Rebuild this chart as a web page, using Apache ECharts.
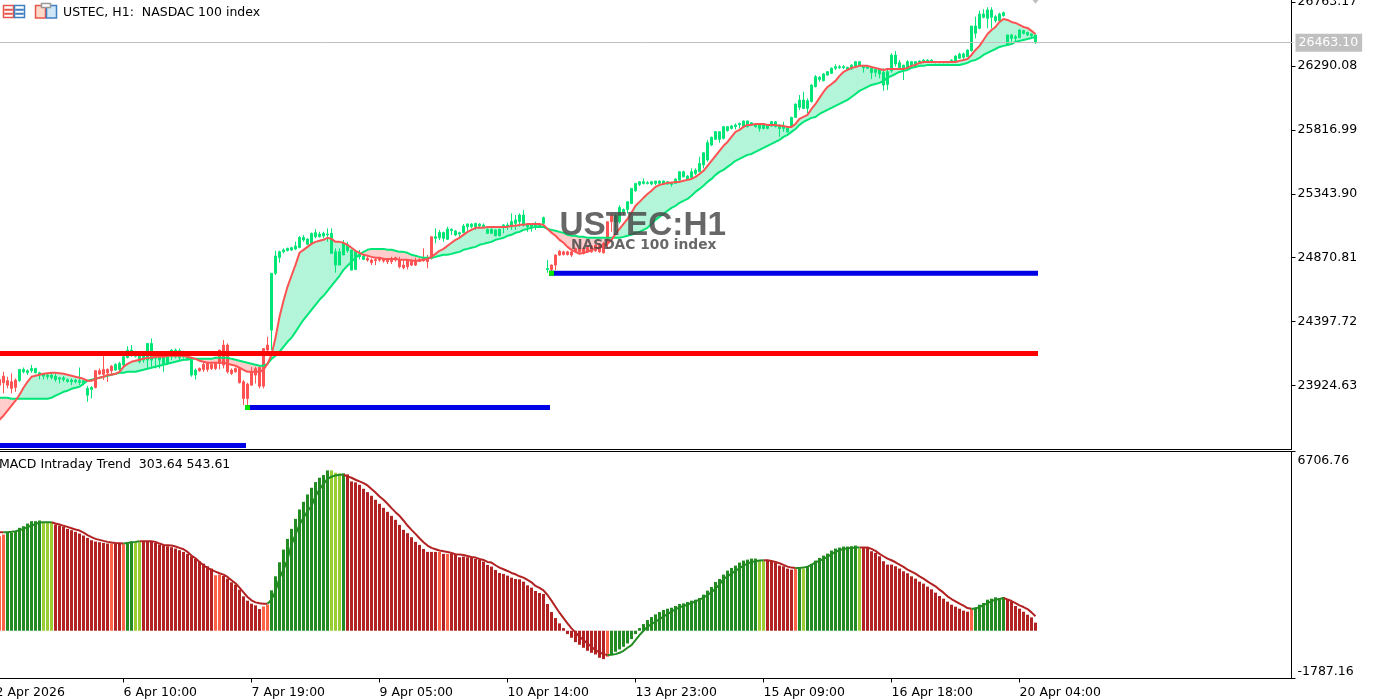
<!DOCTYPE html>
<html>
<head>
<meta charset="utf-8">
<title>USTEC H1</title>
<style>html,body{margin:0;padding:0;background:#fff}#chart{width:1375px;height:699px}</style>
<script src="https://cdn.jsdelivr.net/npm/echarts@6/dist/echarts.min.js"></script>
</head>
<body>
<div id="chart"></div>
<script>
var openPrices = [
23969,23994,23960,23952,23965,23960,24026,24019,24034,24019,
24002,23994,23989,23984,23969,23972,23969,23955,23952,23952,
23947,23940,23853,23895,24034,24034,24044,24044,24068,24039,
24044,24076,24132,24150,24142,24100,24113,24113,24113,24125,
24113,24088,24088,24137,24137,24132,24137,24125,24002,24002,
24051,24081,24088,24081,24088,24187,24224,24224,24039,24051,
24051,23952,23935,24026,24051,24058,24199,24224,24335,24755,
24873,24915,24923,24928,24935,24947,25002,24970,24977,25026,
25026,25031,25039,24903,24816,24816,24891,24923,24779,24784,
24878,24858,24866,24853,24858,24866,24858,24853,24853,24871,
24853,24816,24853,24853,24853,24858,24866,24858,25026,25014,
25019,25014,25007,25071,25039,25046,25056,25100,25100,25100,
25105,25100,25051,25051,25034,25034,25096,25100,25100,25125,
25138,25113,25100,25100,25105,25105,25125,24783,24816,24890,
24919,24914,24914,24914,24939,24939,24939,24946,24956,24964,
24964,24976,25137,25186,25137,25137,25211,25228,25272,25366,
25413,25421,25421,25416,25421,25421,25416,25416,25413,25421,
25445,25470,25450,25463,25495,25507,25557,25594,25705,25747,
25747,25754,25811,25828,25841,25855,25841,25841,25853,25841,
25828,25828,25828,25846,25841,25828,25828,25803,25845,25910,
25984,25976,25976,26026,26137,26191,26181,26223,26236,26273,
26278,26278,26265,26268,26290,26292,26278,26273,26241,26243,
26231,26149,26154,26255,26305,26278,26275,26273,26292,26297,
26310,26317,26317,26317,26315,26315,26315,26315,26317,26322,
26347,26354,26359,26404,26532,26569,26651,26643,26651,26626,
26626,26663,26446,26495,26495,26500,26532,26520,26515,26463];
var closePrices = [
23927,23945,23927,23903,23910,24044,24044,24034,24051,24051,
24019,24007,24002,24002,23994,23982,23982,23969,23965,23965,
23960,23960,23903,23910,23910,24009,24007,24019,24034,24081,
24088,24137,24187,24187,24162,24150,24150,24236,24236,24150,
24162,24137,24142,24187,24187,24182,24167,24162,24113,24039,
24034,24044,24044,24051,24051,24088,24076,24026,24014,24026,
23945,23829,23829,23927,24002,23920,23920,24187,24755,24883,
24915,24928,24940,24945,24957,25021,25021,25009,25051,25056,
25046,25051,25046,25051,24915,24915,24977,24965,24928,24915,
24896,24883,24853,24834,24849,24853,24846,24841,24841,24853,
24804,24797,24804,24816,24816,24846,24849,24841,24866,25026,
25058,25058,25083,25081,25068,25056,25105,25120,25120,25125,
25120,25113,25081,25081,25076,25081,25113,25113,25138,25150,
25187,25187,25120,25120,25120,25118,25167,24791,24783,24816,
24890,24895,24895,24890,24914,24914,24902,24914,24914,24922,
24914,24907,24976,25137,25186,25243,25228,25285,25384,25421,
25433,25433,25426,25433,25438,25438,25438,25433,25428,25453,
25507,25507,25475,25507,25519,25569,25648,25722,25762,25804,
25804,25841,25841,25846,25853,25865,25883,25883,25870,25860,
25853,25853,25853,25878,25878,25853,25845,25833,25910,26008,
26038,26038,26033,26149,26211,26206,26231,26248,26273,26285,
26285,26285,26280,26297,26322,26322,26292,26285,26273,26265,
26265,26243,26248,26371,26371,26315,26297,26322,26322,26322,
26327,26334,26334,26334,26320,26320,26320,26320,26334,26364,
26379,26379,26408,26586,26586,26675,26675,26705,26705,26655,
26675,26685,26520,26520,26507,26557,26552,26539,26527,26520];
var highPrices = [
24014,24026,23989,24014,23977,24044,24058,24044,24076,24056,
24026,24014,24009,24019,24014,23989,23994,23977,23977,23972,
24058,23969,23920,23920,24039,24051,24142,24051,24076,24088,
24100,24142,24216,24224,24182,24162,24167,24236,24273,24162,
24175,24162,24157,24192,24199,24199,24182,24175,24118,24051,
24058,24100,24100,24088,24100,24187,24261,24236,24051,24058,
24058,23965,23945,24063,24063,24063,24199,24285,24755,24923,
24923,24940,24945,24952,24989,25031,25039,25014,25056,25083,
25063,25063,25088,25088,24940,24940,25002,24989,24928,24915,
24928,24891,24878,24866,24866,24873,24871,24866,24878,24878,
24878,24853,24853,24858,24871,24866,24940,24891,25026,25088,
25076,25063,25100,25088,25076,25063,25120,25125,25125,25130,
25125,25125,25088,25088,25081,25086,25120,25130,25199,25187,
25199,25224,25125,25125,25138,25125,25175,24853,24821,24895,
24927,24922,24922,24922,24946,24946,24951,24956,24964,24971,
24976,24988,25137,25186,25191,25260,25235,25285,25384,25421,
25438,25458,25438,25438,25438,25443,25443,25438,25433,25458,
25512,25515,25482,25532,25532,25618,25648,25742,25767,25808,
25804,25846,25846,25853,25865,25870,25885,25885,25875,25865,
25858,25858,25858,25883,25883,25858,25877,25840,25914,26013,
26075,26100,26050,26154,26223,26216,26236,26253,26280,26302,
26297,26297,26285,26302,26327,26327,26297,26290,26290,26273,
26273,26273,26273,26384,26401,26334,26297,26334,26327,26327,
26332,26342,26339,26339,26322,26322,26322,26322,26339,26369,
26389,26389,26413,26586,26655,26700,26710,26725,26725,26668,
26685,26693,26520,26527,26520,26562,26557,26544,26532,26520];
var lowPrices = [
23890,23866,23903,23866,23878,23952,24014,24002,24019,24014,
23969,23969,23969,23969,23952,23940,23952,23945,23927,23940,
23927,23927,23804,23829,23903,24002,23965,23952,24002,24034,
24026,24068,24125,24137,24132,24088,24093,24051,24063,24051,
24051,24026,24076,24113,24125,24113,24125,24113,23989,23969,
24026,24026,24026,24039,24039,24044,24051,24014,24002,24019,
23940,23779,23779,23927,23940,23903,23903,24162,24187,24742,
24834,24903,24918,24920,24928,24940,24989,24965,24972,25014,
25021,25014,24989,24903,24760,24816,24891,24908,24779,24779,
24858,24853,24841,24816,24816,24841,24834,24824,24824,24841,
24792,24784,24784,24809,24809,24839,24841,24792,24858,24977,
25002,24989,25002,25039,25031,25026,25051,25063,25088,25076,
25088,25088,25046,25046,25029,25029,25051,25076,25076,25076,
25100,25100,25063,25063,25076,25096,25113,24759,24759,24778,
24885,24887,24887,24877,24907,24907,24895,24907,24907,24914,
24907,24902,24939,25063,25063,25124,25186,25198,25268,25359,
25401,25413,25413,25408,25408,25416,25411,25411,25396,25416,
25440,25465,25445,25458,25482,25507,25532,25581,25697,25742,
25722,25747,25804,25821,25821,25828,25836,25836,25848,25833,
25804,25821,25821,25841,25836,25766,25803,25796,25840,25905,
25964,25976,25939,26021,26132,26174,26176,26218,26231,26260,
26268,26268,26260,26263,26285,26287,26241,26268,26194,26211,
26199,26107,26112,26241,26285,26273,26186,26268,26287,26285,
26305,26310,26312,26312,26310,26310,26310,26310,26312,26317,
26342,26339,26359,26396,26495,26562,26643,26569,26569,26611,
26618,26655,26446,26470,26463,26495,26525,26512,26495,26453];
var fastLine = [
23671,23701,23738,23775,23812,23856,23908,23952,23989,23997,
24004,24011,24015,24019,24019,24015,24011,24004,23997,23989,
23982,23974,23960,23960,23974,23982,23989,24004,24004,24011,
24026,24063,24085,24100,24108,24115,24122,24130,24130,24137,
24137,24137,24145,24145,24145,24145,24145,24137,24130,24122,
24108,24100,24093,24093,24093,24093,24093,24085,24078,24071,
24056,24041,24026,24026,24026,24026,24041,24085,24152,24278,
24433,24552,24655,24737,24818,24907,24929,24951,24973,24988,
24996,25003,25018,25010,24988,24988,24981,24966,24944,24922,
24907,24892,24885,24877,24870,24870,24862,24862,24862,24862,
24855,24855,24855,24848,24848,24848,24855,24862,24877,24899,
24922,24936,24959,24981,25003,25018,25040,25062,25077,25092,
25092,25092,25099,25099,25099,25099,25099,25099,25107,25107,
25114,25114,25121,25121,25121,25121,25114,25084,25055,25033,
25003,24981,24951,24929,24914,24899,24907,24914,24929,24936,
24944,24959,24973,25003,25047,25084,25121,25158,25203,25255,
25284,25314,25343,25366,25395,25410,25417,25425,25425,25432,
25432,25440,25447,25454,25469,25491,25514,25551,25588,25625,
25662,25699,25728,25765,25802,25817,25839,25854,25854,25861,
25861,25861,25854,25854,25854,25847,25847,25839,25839,25861,
25898,25913,25928,25972,26009,26054,26098,26135,26157,26180,
26217,26246,26261,26276,26283,26291,26291,26291,26283,26276,
26268,26261,26268,26268,26268,26268,26268,26276,26291,26298,
26313,26320,26320,26320,26320,26320,26320,26320,26320,26320,
26328,26335,26342,26372,26409,26439,26483,26527,26557,26579,
26616,26638,26631,26616,26609,26594,26579,26572,26550,26527];
var slowLine = [
23834,23834,23834,23826,23826,23826,23826,23826,23826,23826,
23826,23826,23826,23834,23849,23863,23878,23886,23900,23908,
23915,23937,23960,23967,23974,23982,23989,23997,24004,24011,
24019,24019,24026,24026,24026,24034,24041,24048,24056,24063,
24071,24078,24085,24093,24100,24108,24115,24115,24122,24122,
24122,24122,24122,24122,24130,24130,24130,24130,24122,24115,
24108,24100,24093,24085,24078,24071,24071,24085,24122,24145,
24174,24211,24248,24278,24322,24367,24411,24448,24485,24522,
24559,24589,24626,24663,24700,24737,24781,24811,24840,24870,
24892,24914,24929,24936,24936,24936,24936,24929,24929,24922,
24914,24914,24907,24892,24885,24877,24870,24870,24870,24877,
24885,24892,24892,24899,24907,24914,24929,24936,24944,24951,
24966,24973,24981,24988,25003,25010,25018,25033,25040,25055,
25062,25077,25084,25092,25099,25099,25099,25084,25077,25070,
25062,25055,25040,25033,25033,25025,25025,25018,25018,25018,
25018,25018,25018,25018,25018,25018,25025,25033,25040,25055,
25062,25077,25092,25121,25151,25173,25195,25218,25240,25255,
25277,25292,25306,25329,25358,25380,25403,25432,25454,25484,
25506,25521,25543,25565,25588,25602,25617,25632,25639,25654,
25669,25684,25699,25713,25728,25743,25765,25780,25802,25824,
25854,25876,25891,25906,25913,25935,25950,25965,25980,25995,
26009,26024,26039,26061,26083,26106,26120,26135,26150,26157,
26165,26180,26202,26217,26231,26246,26254,26261,26276,26283,
26291,26291,26298,26298,26298,26298,26298,26298,26298,26298,
26298,26305,26313,26328,26335,26350,26372,26387,26402,26416,
26431,26439,26446,26453,26468,26476,26483,26490,26498,26505];
var macdBars = [
3537,3600,3662,3662,3725,3850,3912,4012,4100,4100,
4125,4062,4037,4062,3975,3937,3887,3812,3762,3700,
3637,3562,3475,3387,3337,3312,3287,3262,3262,3262,
3262,3237,3262,3337,3312,3312,3337,3350,3337,3287,
3225,3200,3162,3125,3075,3012,2950,2875,2787,2687,
2600,2512,2412,2325,2075,2100,2050,1950,1812,1725,
1537,1287,1125,1012,950,812,912,975,1512,2037,
2562,3037,3437,3812,4187,4537,4825,5100,5350,5562,
5725,5825,6000,6000,5912,5887,5887,5850,5587,5550,
5462,5312,5187,5050,4900,4750,4600,4450,4300,4150,
3962,3775,3650,3500,3325,3212,3062,2950,2950,2950,
2950,2875,2875,2875,2837,2750,2775,2750,2750,2687,
2650,2587,2462,2400,2275,2162,2125,2062,1987,1937,
1925,1837,1700,1612,1487,1412,1375,1000,700,475,
275,100,-125,-262,-425,-525,-637,-750,-825,-887,
-1012,-1062,-975,-912,-787,-700,-600,-475,-312,-125,
100,250,400,512,612,700,775,825,862,925,
1000,1025,1075,1125,1162,1225,1350,1500,1637,1825,
1937,2100,2250,2350,2437,2550,2625,2662,2700,2700,
2625,2612,2612,2600,2537,2437,2412,2325,2287,2325,
2325,2325,2412,2500,2625,2725,2812,2887,3000,3075,
3112,3150,3150,3162,3187,3075,3100,3100,2975,2912,
2787,2600,2475,2475,2412,2325,2225,2150,2037,1950,
1837,1762,1650,1550,1425,1300,1200,1087,975,900,
825,750,712,812,875,975,1037,1162,1200,1250,
1225,1262,1162,1087,925,825,712,600,500,304];
var macdSignal = [
3687,3687,3687,3700,3725,3762,3812,3875,3937,3987,
4050,4062,4062,4062,4012,3975,3925,3887,3837,3787,
3750,3675,3575,3500,3437,3400,3362,3325,3300,3287,
3275,3262,3287,3312,3325,3350,3350,3350,3350,3325,
3262,3212,3200,3187,3150,3100,3050,2950,2812,2712,
2575,2450,2350,2275,2212,2150,2100,2012,1887,1775,
1612,1437,1262,1137,1062,1025,1012,1012,1162,1475,
1975,2287,2662,3225,3600,3975,4225,4475,4662,5037,
5287,5500,5687,5762,5812,5837,5837,5775,5725,5650,
5587,5525,5437,5300,5175,5025,4900,4750,4587,4437,
4300,4125,3937,3775,3625,3462,3312,3187,3100,3050,
3000,2975,2950,2912,2862,2850,2837,2800,2762,2737,
2687,2650,2575,2550,2450,2362,2300,2237,2162,2112,
2037,1987,1900,1812,1675,1600,1512,1337,1125,900,
675,475,275,87,-62,-225,-350,-475,-600,-725,
-812,-875,-912,-900,-875,-825,-750,-637,-537,-350,
-162,0,150,250,337,437,525,625,712,800,
875,925,975,1037,1100,1162,1237,1337,1437,1575,
1725,1937,2037,2137,2237,2337,2437,2512,2575,2600,
2625,2637,2637,2612,2575,2525,2462,2400,2362,2350,
2350,2362,2400,2462,2562,2612,2687,2762,2862,2950,
3012,3062,3087,3100,3112,3112,3112,3112,3062,2987,
2875,2787,2700,2637,2562,2475,2387,2287,2212,2137,
2037,1950,1850,1750,1662,1537,1425,1287,1187,1100,
1012,937,850,825,825,887,962,1037,1100,1162,
1187,1225,1175,1112,1037,950,887,812,687,544];
// runs of histogram state along the bars: [state, number of bars]
var macdStateRuns = [
['fallWeak',2],['rise',9],['riseWeak',3],['fall',14],['fallWeak',1],['fall',2],['fallWeak',1],
['rise',2],['riseWeak',2],['fall',18],['fallWeak',2],['fall',10],['fallWeak',2],['rise',15],
['riseWeak',3],['rise',1],['fall',23],['fallWeak',1],['fall',1],['fallWeak',1],['fall',39],
['fallWeak',1],['rise',37],['riseWeak',2],['fall',7],['fallWeak',1],['rise',1],['riseWeak',1],
['rise',13],['riseWeak',1],['fall',27],['fallWeak',1],['rise',8],['fall',8]];
var macdStateColors = {rise:'#228B22', riseWeak:'#9ACD32', fall:'#B22222', fallWeak:'#FF6347'};

var priceTicks = [26763.17,26290.08,25816.99,25343.90,24870.81,24397.72,23924.63];
var macdTicks = [6706.76,-1787.16];
var timeTickIndex = [0,32,64,96,128,160,192,224,256];
var timeTickLabels = ['2 Apr 2026','6 Apr 10:00','7 Apr 19:00','9 Apr 05:00','10 Apr 14:00','13 Apr 23:00','15 Apr 09:00','16 Apr 18:00','20 Apr 04:00'];
var lastPrice = 26463.10;
var redLevel = 24161.5;
// blue levels: first bar, last bar, price
var blueLevels = [[-1,61,23480.4],[62,137,23761.7],[138,259,24756]];
var levelMarkers = [[62,23761.7],[138,24756]];

(function (window) {
    "use strict";
    var SLOT_COUNT = 325;   // one empty slot before the first bar holds the cut-off first time label
    var categories = [];
    for (var i = 0; i < SLOT_COUNT; i++) categories.push('');
    timeTickIndex.forEach(function (slot, n) { categories[slot] = timeTickLabels[n]; });

    var GREEN = '#00E676', RED = '#FF5252';
    var FONT = 'DejaVu Sans';

    var macdStates = [];
    macdStateRuns.forEach(function (run) {
        for (var n = 0; n < run[1]; n++) macdStates.push(run[0]);
    });
    var isRising = function (k) { return macdStates[k] === 'rise' || macdStates[k] === 'riseWeak'; };

    var lead = function (arr) { return [null].concat(arr); };
    var candleData = [['-','-','-','-']];
    openPrices.forEach(function (o, k) {
        candleData.push([o, closePrices[k], lowPrices[k], highPrices[k]]);
    });
    var barData = lead(macdBars.map(function (v, k) {
        return {value: v, itemStyle: {color: macdStateColors[macdStates[k]]}};
    }));
    var signalUp = lead(macdSignal.map(function (v, k) {
        return (isRising(k) || (k + 1 < macdSignal.length && isRising(k + 1))) ? v : null;
    }));
    var signalDown = lead(macdSignal.map(function (v, k) {
        return (!isRising(k) || (k + 1 < macdSignal.length && !isRising(k + 1))) ? v : null;
    }));

    var renderCloud = function (params, api) {
        var k = api.value(0);
        if (k + 1 >= fastLine.length) return;
        var x0 = k + 1, x1 = k + 2;
        var fill = fastLine[k] + fastLine[k + 1] >= slowLine[k] + slowLine[k + 1] ? '#B2F5D8' : '#FFCCCC';
        return {
            type: 'polygon',
            shape: {points: [
                api.coord([x0, fastLine[k]]), api.coord([x1, fastLine[k + 1]]),
                api.coord([x1, slowLine[k + 1]]), api.coord([x0, slowLine[k]])
            ]},
            style: {fill: fill, stroke: fill, lineWidth: 0.5}
        };
    };

    var levelLine = function (color, first, last, price) {
        var data = [];
        for (var s = first + 1; s <= last + 1; s++) data.push([s, price]);
        return {
            type: 'line', xAxisIndex: 0, yAxisIndex: 0, data: data, showSymbol: false, silent: true, z: 6,
            lineStyle: {color: color, width: 5, cap: 'square'}
        };
    };
    var curve = function (values, color, width, axisIndex, z) {
        return {
            type: 'line', xAxisIndex: axisIndex, yAxisIndex: axisIndex, data: values, showSymbol: false,
            silent: true, z: z, connectNulls: false, lineStyle: {color: color, width: width}
        };
    };

    var series = [
        {type: 'custom', xAxisIndex: 0, yAxisIndex: 0, z: 1, silent: true, renderItem: renderCloud,
            data: fastLine.map(function (v, k) { return [k]; }), encode: {x: -1, y: -1}},
        {type: 'candlestick', xAxisIndex: 0, yAxisIndex: 0, z: 2, silent: true, barWidth: 2, data: candleData,
            itemStyle: {color: GREEN, color0: RED, borderColor: GREEN, borderColor0: RED, borderWidth: 1},
            markLine: {
                silent: true, symbol: 'none', animation: false,
                data: [{yAxis: lastPrice}],
                lineStyle: {color: '#C0C0C0', width: 1, type: 'solid'},
                label: {position: 'end', distance: 2, color: '#fff', backgroundColor: '#C0C0C0',
                    padding: [3, 4, 2, 3], fontFamily: FONT, fontSize: 12.5,
                    formatter: function () { return lastPrice.toFixed(2); }}
            }},
        curve(lead(slowLine), GREEN, 2, 0, 4),
        curve(lead(fastLine), RED, 2, 0, 5),
        levelLine('#FF0000', -1, 259, redLevel)
    ];
    blueLevels.forEach(function (lv) { series.push(levelLine('#0000E6', lv[0], lv[1], lv[2])); });
    series.push({type: 'scatter', xAxisIndex: 0, yAxisIndex: 0, z: 7, silent: true, symbol: 'rect', symbolSize: 5,
        data: levelMarkers.map(function (m) { return [m[0] + 1, m[1]]; }), itemStyle: {color: '#00E600', opacity: 1}});
    series.push({type: 'scatter', xAxisIndex: 0, yAxisIndex: 0, z: 7, silent: true, clip: false, symbol: 'triangle',
        symbolRotate: 180, symbolSize: [11, 7], data: [[260, 26776]], itemStyle: {color: '#C0C0C0', opacity: 1}});
    series.push({type: 'bar', xAxisIndex: 1, yAxisIndex: 1, z: 2, silent: true, barWidth: 3, data: barData});
    series.push(curve(signalDown, '#B22222', 2, 1, 3));
    series.push(curve(signalUp, '#228B22', 2, 1, 3));

    var frameLine = function (y) {
        return {type: 'line', silent: true, shape: {x1: 0, y1: y, x2: 1292, y2: y}, style: {stroke: '#000', lineWidth: 1}};
    };
    var text = function (x, y, str, size, fill, weight, family) {
        return {type: 'text', silent: true, x: x, y: y, z: 20, style: {
            text: str, fill: fill, fontSize: size, fontWeight: weight || 'normal',
            fontFamily: family || FONT, verticalAlign: 'middle', align: 'left'
        }};
    };
    var box = function (x, y, w, h, fill, stroke) {
        return {type: 'rect', silent: true, shape: {x: x, y: y, width: w, height: h},
            style: {fill: fill, stroke: stroke, lineWidth: 1.5}};
    };
    var ICON_RED = '#E8554A', ICON_BLUE = '#3F7FBF';
    var graphics = [
        frameLine(449.5), frameLine(451.5), frameLine(678.5),
        text(63, 13, 'USTEC, H1:  NASDAC 100 index', 12.5, '#000'),
        text(-1, 465, 'MACD Intraday Trend  303.64 543.61', 12.5, '#000'),
        text(559.5, 226, 'USTEC:H1', 33.3, 'rgba(70,70,70,0.82)', 'bold', 'Liberation Sans'),
        text(571, 245, 'NASDAC 100 index', 13.8, 'rgba(70,70,70,0.82)', 'bold'),
        box(3.5, 5.5, 10, 12, '#fff', ICON_RED), box(14.5, 5.5, 10, 12, '#fff', ICON_BLUE),
        box(5, 9.5, 7, 0.5, ICON_RED, ICON_RED), box(5, 13.5, 7, 0.5, ICON_RED, ICON_RED),
        box(16, 9.5, 7, 0.5, ICON_BLUE, ICON_BLUE), box(16, 13.5, 7, 0.5, ICON_BLUE, ICON_BLUE),
        box(35.5, 5.5, 10, 12.5, '#FBD9C9', ICON_RED), box(46.5, 5.5, 10, 12.5, '#CFE6F7', ICON_BLUE),
        box(41.5, 3.5, 9, 4, '#fff', '#999')
    ];

    var chart = echarts.init(document.getElementById('chart'));
    chart.setOption({
        animation: false,
        backgroundColor: '#fff',
        grid: [
            {left: -6.5, width: 1300, top: 0, height: 449.5, outerBoundsMode: 'none'},
            {left: -6.5, width: 1300, top: 451.5, height: 227, outerBoundsMode: 'none'}
        ],
        xAxis: [
            {type: 'category', gridIndex: 0, data: categories, show: false, boundaryGap: true},
            {type: 'category', gridIndex: 1, data: categories, boundaryGap: true,
                axisLine: {show: false, onZero: false},
                axisTick: {show: true, length: 4, alignWithLabel: true, customValues: timeTickIndex, lineStyle: {color: '#000'}},
                axisLabel: {customValues: timeTickIndex, align: 'left', margin: 7.5, color: '#000', fontFamily: FONT, fontSize: 12.5, hideOverlap: false}}
        ],
        yAxis: [
            {type: 'value', gridIndex: 0, position: 'right', offset: -2, min: 23450.8, max: 26778.7, scale: true,
                splitLine: {show: false},
                axisLine: {show: true, lineStyle: {color: '#000'}},
                axisTick: {show: true, length: 4, customValues: priceTicks, lineStyle: {color: '#000'}},
                axisLabel: {customValues: priceTicks, margin: 6, padding: [3, 0, 0, 0], color: '#000', fontFamily: FONT, fontSize: 12.5,
                    formatter: function (v) { return v.toFixed(2); }}},
            {type: 'value', gridIndex: 1, position: 'right', offset: -2, min: -1787.16, max: 6706.76, scale: true,
                splitLine: {show: false},
                axisLine: {show: true, onZero: false, lineStyle: {color: '#000'}},
                axisTick: {show: true, length: 4, customValues: macdTicks, lineStyle: {color: '#000'}},
                axisLabel: {customValues: macdTicks.slice().reverse(), margin: 6, padding: [3, 0, 0, 0], color: '#000', fontFamily: FONT, fontSize: 12.5,
                    verticalAlignMaxLabel: 'top', verticalAlignMinLabel: 'bottom',
                    formatter: function (v) { return v.toFixed(2); }}}
        ],
        series: series,
        graphic: graphics
    });
})(window);
</script>
</body>
</html>
